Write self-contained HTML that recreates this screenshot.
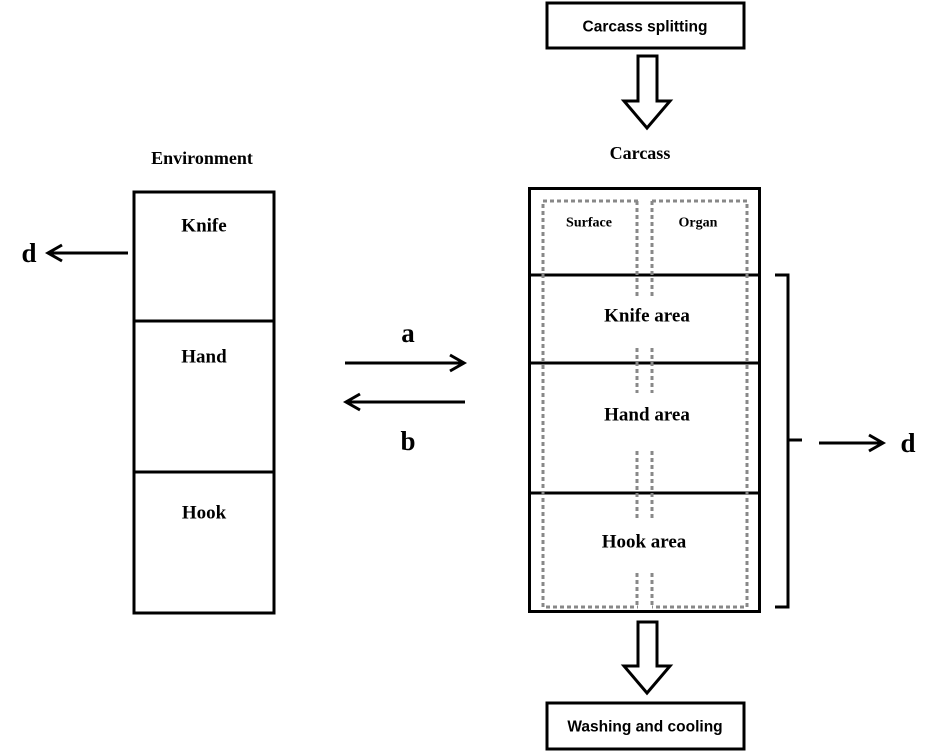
<!DOCTYPE html>
<html><head><meta charset="utf-8"><style>
html,body{margin:0;padding:0;background:#fff;}
svg{display:block;}
.s{font-family:"Liberation Serif",serif;font-weight:bold;fill:#000;text-anchor:middle;dominant-baseline:central;}
.a{font-family:"Liberation Sans",sans-serif;font-weight:bold;fill:#000;text-anchor:middle;dominant-baseline:central;font-size:15.5px;}
</style></head><body>
<svg width="938" height="752" viewBox="0 0 938 752" xmlns="http://www.w3.org/2000/svg">
<g fill="none" stroke="#000" stroke-width="3">
<rect x="547" y="3" width="197" height="45"/>
<text class="a" x="645" y="27" stroke="none">Carcass splitting</text>
<polygon points="638,56 657,56 657,101 670,101 647,128 624,101 638,101"/>
<polygon points="638,622 657,622 657,666 670,666 647,693 624,666 638,666"/>
<rect x="547" y="703" width="197" height="46"/>
<text class="a" x="645" y="727" stroke="none">Washing and cooling</text>

<rect x="134" y="192" width="140" height="421"/>
<line x1="134" y1="321" x2="274" y2="321"/>
<line x1="134" y1="472" x2="274" y2="472"/>

<rect x="529.5" y="188.5" width="230" height="423"/>
<line x1="529" y1="275" x2="760" y2="275"/>
<line x1="529" y1="363" x2="760" y2="363"/>
<line x1="529" y1="493" x2="760" y2="493"/>

<polyline points="775,275 788,275 788,607 775,607"/>
<line x1="788" y1="440" x2="802" y2="440"/>

<line x1="128" y1="253" x2="48" y2="253"/>
<polyline points="62,245 48,253 62,261"/>
<line x1="345" y1="363" x2="464" y2="363"/>
<polyline points="450,355 464,363 450,371"/>
<line x1="465" y1="402" x2="346" y2="402"/>
<polyline points="360,394 346,402 360,410"/>
<line x1="819" y1="443" x2="883" y2="443"/>
<polyline points="869,435 883,443 869,451"/>
</g>
<g fill="none" stroke="#888" stroke-width="3" stroke-dasharray="4 3">
<polyline points="638,201 543,201 543,607 638,607"/>
<polyline points="652,201 747,201 747,607 652,607"/>
<line x1="637" y1="201" x2="637" y2="296"/>
<line x1="652" y1="201" x2="652" y2="296"/>
<line x1="637" y1="348" x2="637" y2="393"/>
<line x1="652" y1="348" x2="652" y2="393"/>
<line x1="637" y1="451" x2="637" y2="520"/>
<line x1="652" y1="451" x2="652" y2="520"/>
<line x1="637" y1="573" x2="637" y2="607"/>
<line x1="652" y1="573" x2="652" y2="607"/>
</g>
<text class="s" x="202" y="158" font-size="18">Environment</text>
<text class="s" x="204" y="226" font-size="19">Knife</text>
<text class="s" x="204" y="357" font-size="19">Hand</text>
<text class="s" x="204" y="513" font-size="19">Hook</text>
<text class="s" x="640" y="153" font-size="18">Carcass</text>
<text class="s" x="589" y="223" font-size="14">Surface</text>
<text class="s" x="698" y="223" font-size="14">Organ</text>
<text class="s" x="647" y="316" font-size="19">Knife area</text>
<text class="s" x="647" y="415" font-size="19">Hand area</text>
<text class="s" x="644" y="542" font-size="19">Hook area</text>
<text class="s" x="408" y="333" font-size="27">a</text>
<text class="s" x="408" y="441" font-size="27">b</text>
<text class="s" x="29" y="253" font-size="27">d</text>
<text class="s" x="908" y="443" font-size="27">d</text>
</svg>
</body></html>
